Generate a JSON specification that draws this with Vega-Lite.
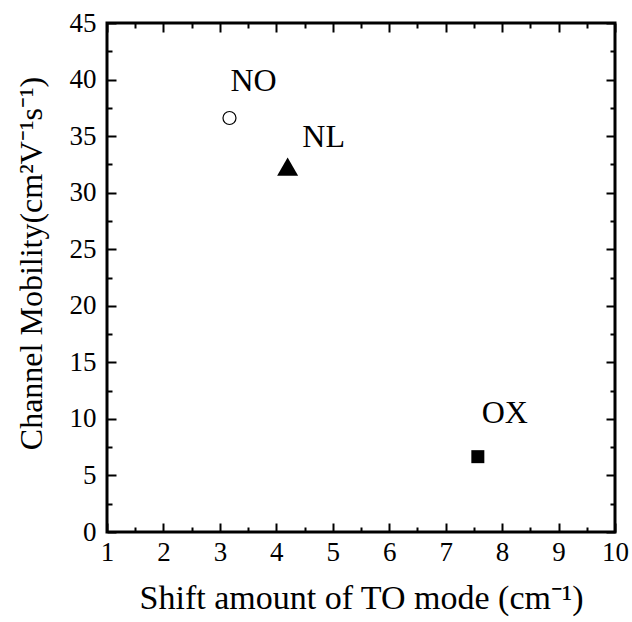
{
  "$schema": "https://vega.github.io/schema/vega-lite/v6.json",
  "autosize": "none",
  "width": 508,
  "height": 509,
  "padding": {"left": 107, "top": 23, "right": 17, "bottom": 90},
  "background": "white",
  "config": {
    "font": "Liberation Serif",
    "view": {"stroke": "black", "strokeWidth": 3},
    "axis": {
      "grid": false,
      "domain": false,
      "labelFont": "Liberation Serif",
      "titleFont": "Liberation Serif",
      "labelColor": "black",
      "titleColor": "black",
      "tickColor": "black",
      "tickWidth": 2,
      "titleFontWeight": "normal",
      "labelOverlap": false,
      "labelFlush": false
    }
  },
  "data": {
    "values": [
      {"sample": "NO", "shift": 3.17, "mobility": 36.6},
      {"sample": "NL", "shift": 4.2, "mobility": 32.3},
      {"sample": "OX", "shift": 7.57, "mobility": 6.66}
    ]
  },
  "layer": [
    {
      "transform": [{"filter": "datum.sample === 'NO'"}],
      "mark": {"type": "point", "shape": "circle", "size": 169, "filled": true, "fill": "white", "stroke": "black", "strokeWidth": 1.2, "opacity": 1},
      "encoding": {
        "x": {"field": "shift", "type": "quantitative", "scale": {"domain": [1, 10], "nice": false, "zero": false},
          "axis": {"orient": "bottom", "values": [1, 2, 3, 4, 5, 6, 7, 8, 9, 10], "ticks": false, "labelFontSize": 27, "labelPadding": 7,
            "title": "Shift amount of TO mode  (cm⁻¹)", "titleFontSize": 34, "titlePadding": 16}},
        "y": {"field": "mobility", "type": "quantitative", "scale": {"domain": [0, 45], "nice": false, "zero": false},
          "axis": {"orient": "left", "values": [0, 5, 10, 15, 20, 25, 30, 35, 40, 45], "ticks": false, "labelFontSize": 27, "labelPadding": 11,
            "title": "Channel Mobility(cm²V⁻¹s⁻¹)", "titleFontSize": 32, "titlePadding": 21, "titleY": 240}}
      }
    },
    {
      "transform": [{"filter": "datum.sample === 'NL'"}],
      "mark": {"type": "point", "shape": "triangle-up", "size": 441, "filled": true, "color": "black", "opacity": 1},
      "encoding": {
        "x": {"field": "shift", "type": "quantitative", "scale": {"domain": [1, 10], "nice": false, "zero": false},
          "axis": {"orient": "bottom", "values": [1, 2, 3, 4, 5, 6, 7, 8, 9, 10], "labels": false, "tickSize": -9, "title": null}},
        "y": {"field": "mobility", "type": "quantitative", "scale": {"domain": [0, 45], "nice": false, "zero": false},
          "axis": {"orient": "left", "values": [0, 5, 10, 15, 20, 25, 30, 35, 40, 45], "labels": false, "tickSize": -9, "title": null}}
      }
    },
    {
      "transform": [{"filter": "datum.sample === 'OX'"}],
      "mark": {"type": "point", "shape": "square", "size": 169, "filled": true, "color": "black", "opacity": 1},
      "encoding": {
        "x": {"field": "shift", "type": "quantitative", "scale": {"domain": [1, 10], "nice": false, "zero": false},
          "axis": {"orient": "bottom", "values": [1.5, 2.5, 3.5, 4.5, 5.5, 6.5, 7.5, 8.5, 9.5], "labels": false, "tickSize": -5, "title": null}},
        "y": {"field": "mobility", "type": "quantitative", "scale": {"domain": [0, 45], "nice": false, "zero": false},
          "axis": {"orient": "left", "values": [2.5, 7.5, 12.5, 17.5, 22.5, 27.5, 32.5, 37.5, 42.5], "labels": false, "tickSize": -5, "title": null}}
      }
    },
    {
      "transform": [{"filter": "datum.sample === 'NO'"}],
      "mark": {"type": "text", "fontSize": 32, "align": "center", "baseline": "alphabetic", "dx": 24, "dy": -27.5, "color": "black"},
      "encoding": {
        "text": {"field": "sample"},
        "x": {"field": "shift", "type": "quantitative", "scale": {"domain": [1, 10], "nice": false, "zero": false},
          "axis": {"orient": "top", "values": [1, 2, 3, 4, 5, 6, 7, 8, 9, 10], "labels": false, "tickSize": -9, "title": null}},
        "y": {"field": "mobility", "type": "quantitative", "scale": {"domain": [0, 45], "nice": false, "zero": false},
          "axis": {"orient": "right", "values": [0, 5, 10, 15, 20, 25, 30, 35, 40, 45], "labels": false, "tickSize": -9, "title": null}}
      }
    },
    {
      "transform": [{"filter": "datum.sample === 'NL'"}],
      "mark": {"type": "text", "fontSize": 32, "align": "center", "baseline": "alphabetic", "dx": 36, "dy": -20, "color": "black"},
      "encoding": {
        "text": {"field": "sample"},
        "x": {"field": "shift", "type": "quantitative", "scale": {"domain": [1, 10], "nice": false, "zero": false},
          "axis": {"orient": "top", "values": [1.5, 2.5, 3.5, 4.5, 5.5, 6.5, 7.5, 8.5, 9.5], "labels": false, "tickSize": -5, "title": null}},
        "y": {"field": "mobility", "type": "quantitative", "scale": {"domain": [0, 45], "nice": false, "zero": false},
          "axis": {"orient": "right", "values": [2.5, 7.5, 12.5, 17.5, 22.5, 27.5, 32.5, 37.5, 42.5], "labels": false, "tickSize": -5, "title": null}}
      }
    },
    {
      "transform": [{"filter": "datum.sample === 'OX'"}],
      "mark": {"type": "text", "fontSize": 32, "align": "center", "baseline": "alphabetic", "dx": 27, "dy": -33.5, "color": "black"},
      "encoding": {
        "text": {"field": "sample"},
        "x": {"field": "shift", "type": "quantitative", "scale": {"domain": [1, 10], "nice": false, "zero": false}, "axis": null},
        "y": {"field": "mobility", "type": "quantitative", "scale": {"domain": [0, 45], "nice": false, "zero": false}, "axis": null}
      }
    }
  ],
  "resolve": {"axis": {"x": "independent", "y": "independent"}}
}
